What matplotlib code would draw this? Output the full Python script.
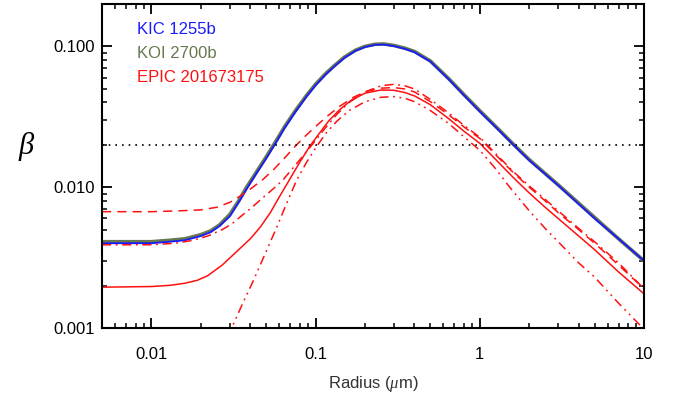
import matplotlib
matplotlib.use("Agg")
import matplotlib.pyplot as plt

# ---- data ----
r_blue = [0.005, 0.008, 0.01, 0.013, 0.016, 0.02, 0.023, 0.026, 0.03, 0.034, 0.038, 0.043, 0.05,
          0.057, 0.065, 0.075, 0.088, 0.1, 0.115, 0.13, 0.15, 0.175, 0.2, 0.23, 0.26, 0.3, 0.35,
          0.4, 0.5, 0.65, 0.8, 1.0, 1.3, 1.6, 2.0, 2.5, 3.0, 4.0, 5.0, 7.0, 10.0]
b_blue = [0.0040, 0.0040, 0.0040, 0.0041, 0.0042, 0.0045, 0.0048, 0.0053, 0.0062, 0.0078, 0.0097,
          0.0122, 0.0160, 0.0205, 0.0265, 0.034, 0.044, 0.053, 0.063, 0.072, 0.083, 0.093, 0.099,
          0.1025, 0.103, 0.1005, 0.096, 0.091, 0.078, 0.058, 0.045, 0.0345, 0.0255, 0.0200, 0.0155,
          0.0124, 0.0103, 0.0076, 0.0060, 0.0043, 0.0030]
b_green = [0.0041, 0.0041, 0.0041, 0.0042, 0.0043, 0.0046, 0.0049, 0.0054, 0.0064, 0.0080, 0.0100,
           0.0125, 0.0164, 0.0210, 0.0271, 0.0347, 0.0448, 0.0539, 0.0640, 0.0730, 0.0840, 0.0940,
           0.1000, 0.1035, 0.1040, 0.1015, 0.0970, 0.0920, 0.0788, 0.0586, 0.0455, 0.0349, 0.0258,
           0.0202, 0.0157, 0.0125, 0.0104, 0.0077, 0.0061, 0.0043, 0.0030]

r_solid = [0.005, 0.01, 0.013, 0.016, 0.019, 0.022, 0.027, 0.034, 0.04, 0.046, 0.053, 0.06, 0.069,
           0.08, 0.092, 0.105, 0.12, 0.14, 0.165, 0.2, 0.25, 0.3, 0.35, 0.4, 0.5, 0.65, 0.8, 1.0,
           1.3, 1.6, 2.0, 2.5, 3.0, 4.0, 5.0, 7.0, 10.0]
b_solid = [0.00195, 0.00197, 0.00201, 0.00208, 0.00218, 0.00235, 0.0028, 0.0036, 0.0043, 0.0052,
           0.0066, 0.0085, 0.0112, 0.0150, 0.0195, 0.0240, 0.0295, 0.0355, 0.0415, 0.0465, 0.0490,
           0.0488, 0.0470, 0.0445, 0.0385, 0.0305, 0.0250, 0.0205, 0.0150, 0.0117, 0.0091, 0.0072,
           0.0060, 0.0045, 0.0036, 0.0025, 0.00175]

r_dash = [0.005, 0.01, 0.015, 0.02, 0.025, 0.03, 0.035, 0.041, 0.0476, 0.055, 0.065, 0.075, 0.088,
          0.1, 0.12, 0.14, 0.17, 0.2, 0.25, 0.3, 0.35, 0.4, 0.5, 0.65, 0.8, 1.0, 1.3, 1.6, 2.0,
          2.5, 3.0, 4.0, 5.0, 7.0, 10.0]
b_dash = [0.0067, 0.0067, 0.0068, 0.0069, 0.0072, 0.0078, 0.0087, 0.0099, 0.0113, 0.0132, 0.0162,
          0.0195, 0.0235, 0.0270, 0.0325, 0.0375, 0.0435, 0.0475, 0.0505, 0.0510, 0.0498, 0.0475,
          0.0405, 0.0325, 0.0268, 0.0222, 0.0162, 0.0127, 0.0100, 0.0080, 0.0066, 0.0050, 0.0040,
          0.0028, 0.0019]

r_dashdot = [0.005, 0.01, 0.014, 0.018, 0.022, 0.027, 0.031, 0.035, 0.041, 0.0476, 0.055, 0.063,
             0.072, 0.085, 0.1, 0.115, 0.135, 0.16, 0.2, 0.25, 0.3, 0.35, 0.4, 0.5, 0.65, 0.8, 1.0,
             1.3, 1.6, 2.0, 2.5, 3.0, 4.0, 5.0, 7.0, 10.0]
b_dashdot = [0.0039, 0.0039, 0.0040, 0.0042, 0.0045, 0.0050, 0.0055, 0.0062, 0.0072, 0.0084, 0.0097,
             0.0112, 0.0135, 0.0170, 0.0215, 0.0265, 0.0330, 0.0400, 0.0475, 0.0525, 0.0538, 0.0525,
             0.0498, 0.0420, 0.0335, 0.0275, 0.0226, 0.0165, 0.0129, 0.0102, 0.0082, 0.0068, 0.0051,
             0.0041, 0.0029, 0.0019]

r_dd = [0.025, 0.0308, 0.036, 0.042, 0.05, 0.058, 0.067, 0.0766, 0.088, 0.1, 0.115, 0.135, 0.16,
        0.2, 0.25, 0.3, 0.35, 0.4, 0.5, 0.65, 0.8, 1.0, 1.25, 1.52, 2.0, 2.5, 3.0, 4.0, 5.0, 7.0, 10.0]
b_dd = [0.00058, 0.0010, 0.0015, 0.0022, 0.0035, 0.0052, 0.0078, 0.0112, 0.0150, 0.0190, 0.0240,
        0.0295, 0.0350, 0.0405, 0.0435, 0.0440, 0.0428, 0.0405, 0.0350, 0.0282, 0.0228, 0.0183,
        0.0135, 0.0100, 0.0068, 0.0051, 0.0041, 0.0029, 0.0023, 0.0015, 0.00098]

beta_limit = 0.02

legend_names = ["KIC 1255b", "KOI 2700b", "EPIC 201673175"]
xtick_vals = [0.01, 0.1, 1, 10]
xtick_labels = ["0.01", "0.1", "1", "10"]
ytick_vals = [0.001, 0.01, 0.1]
ytick_labels = ["0.001", "0.010", "0.100"]

# ---- style ----
plt.rcParams['font.family'] = ['Liberation Sans', 'DejaVu Sans']
plt.rcParams['mathtext.fontset'] = 'custom'
plt.rcParams['mathtext.it'] = 'Liberation Serif:italic'
plt.rcParams['mathtext.rm'] = 'Liberation Sans'

BLUE = "#1a1aff"
GREEN = "#66784f"
RED = "#ff1010"

fig = plt.figure(figsize=(6.75, 4.01), dpi=100)
ax = fig.add_axes([102/675, 1-328/401, (644-102)/675, (328-4)/401])

ax.plot(r_blue, b_green, color=GREEN, lw=2.6, solid_capstyle='butt')
ax.plot(r_blue, b_blue, color=BLUE, lw=1.3)
ax.plot(r_solid, b_solid, color=RED, lw=1.1)
ax.plot(r_dash, b_dash, color=RED, lw=1.1, linestyle=(0, (6, 4)))
ax.plot(r_dashdot, b_dashdot, color=RED, lw=1.1, linestyle=(0, (6, 3, 1.2, 3)))
ax.plot(r_dd, b_dd, color=RED, lw=1.1, linestyle=(0, (6, 3, 1.2, 3, 1.2, 3)))
ax.axhline(beta_limit, color='black', lw=1.2, linestyle=(0, (1, 3)))

ax.set_xscale('log')
ax.set_yscale('log')
ax.set_xlim(0.005, 10)
ax.set_ylim(0.001, 0.2)

ax.set_xticks(xtick_vals)
ax.set_xticklabels(xtick_labels)
ax.set_yticks(ytick_vals)
ax.set_yticklabels(ytick_labels)

ax.tick_params(which='both', direction='in', top=True, right=True, width=1.3, colors='black')
ax.tick_params(axis='x', which='major', length=7.5, pad=14, labelsize=12)
ax.tick_params(axis='y', which='major', length=7.5, pad=5, labelsize=12)
ax.tick_params(which='minor', length=3.8, width=1.1)
for s in ax.spines.values():
    s.set_linewidth(1.5)

ax.set_xlabel(r"Radius ($\mu$m)", fontsize=12, color='#333333', labelpad=8)
fig.text(26/675, 1-147/401, "β", fontsize=22, ha='center', va='center',
         family='Liberation Serif', style='italic')

for i, (name, col) in enumerate(zip(legend_names, [BLUE, GREEN, RED])):
    ax.text(137/675, 1-(29+24*i)/401, name, color=col, fontsize=12,
            transform=fig.transFigure, ha='left', va='center')

fig.savefig("out.png", dpi=100)
